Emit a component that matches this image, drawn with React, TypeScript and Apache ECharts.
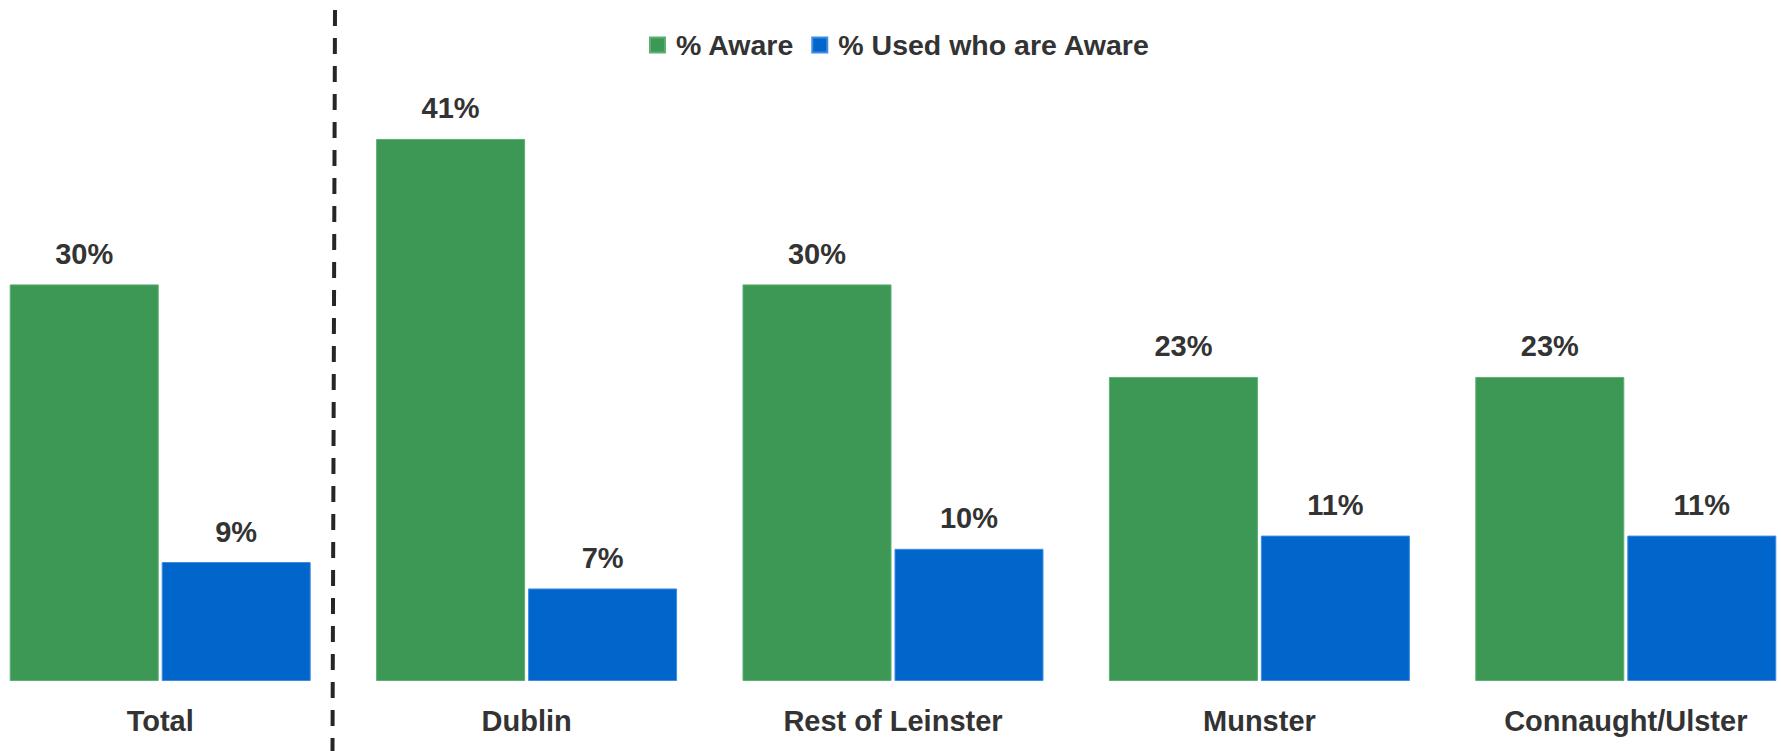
import React, { useEffect, useRef } from "react";
import * as echarts from "echarts";

const categories = ["Total", "Dublin", "Rest of Leinster", "Munster", "Connaught/Ulster"];
const seriesNames = ["% Aware", "% Used who are Aware"];
const awareValues = [30, 41, 30, 23, 23];
const usedValues = [9, 7, 10, 11, 11];

const FONT = "'Liberation Sans', Arial, sans-serif";
const TEXT = "#333333";
const GREEN = "#3D9856";
const BLUE = "#0066CC";

export default function App() {
  const ref = useRef<HTMLDivElement>(null);
  useEffect(() => {
    document.body.style.margin = "0";
    if (!ref.current) return;
    const chart = echarts.init(ref.current, null, { renderer: "svg" });
    const label = {
      show: true,
      position: "top",
      distance: 16,
      formatter: "{c}%",
      color: TEXT,
      fontFamily: FONT,
      fontWeight: "bold",
      fontSize: 29,
    };
    chart.setOption({
      animation: false,
      backgroundColor: "#ffffff",
      textStyle: { fontFamily: FONT },
      grid: {
        left: -23,
        right: -28,
        top: 20,
        bottom: 70,
        containLabel: false,
        outerBoundsMode: "none",
      },
      legend: {
        data: seriesNames,
        left: 649,
        top: 30,
        padding: 0,
        itemWidth: 15,
        itemHeight: 15,
        itemGap: 17,
        icon: "rect",
        textStyle: {
          color: TEXT,
          fontFamily: FONT,
          fontWeight: "bold",
          fontSize: 28.5,
          lineHeight: 30,
          padding: [0, 0, 0, 6],
        },
      },
      xAxis: {
        type: "category",
        data: categories,
        axisLine: { show: false },
        axisTick: { show: false },
        axisLabel: {
          margin: 25,
          color: TEXT,
          fontFamily: FONT,
          fontWeight: "bold",
          fontSize: 29,
          interval: 0,
        },
      },
      yAxis: {
        type: "value",
        min: 0,
        max: 50,
        show: false,
        splitLine: { show: false },
      },
      series: [
        {
          name: seriesNames[0],
          type: "bar",
          data: awareValues,
          barWidth: 149,
          barGap: "2%",
          itemStyle: { color: GREEN, borderColor: "#5BAF72", borderWidth: 1 },
          label,
        },
        {
          name: seriesNames[1],
          type: "bar",
          data: usedValues,
          barWidth: 149,
          barGap: "2%",
          itemStyle: { color: BLUE, borderColor: "#3F8CE0", borderWidth: 1 },
          label,
        },
      ],
      graphic: [
        {
          type: "line",
          shape: { x1: 335, y1: 10, x2: 332.5, y2: 751 },
          style: { stroke: "#262626", lineWidth: 4, lineDash: [16, 12] },
          silent: true,
        },
      ],
    });
    return () => chart.dispose();
  }, []);
  return <div ref={ref} style={{ width: 1781, height: 751 }} />;
}
